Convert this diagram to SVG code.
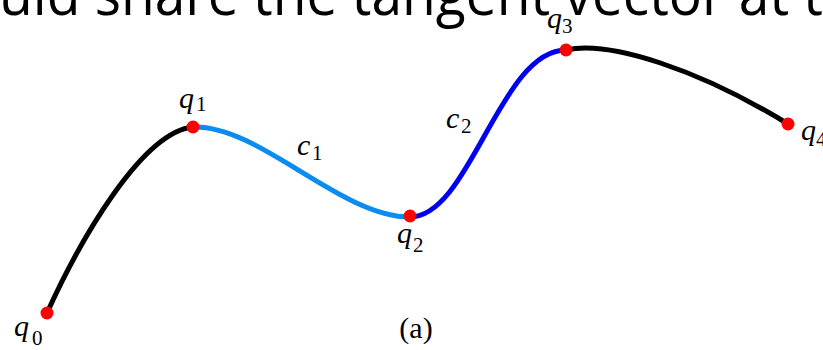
<svg xmlns="http://www.w3.org/2000/svg" width="823" height="350" viewBox="0 0 823 350">
<style>
.seg{fill:none;stroke-width:5;stroke-linecap:butt}
.pt{fill:#ff0000}
.lbl{font-family:"Liberation Serif",serif;font-style:italic;font-size:30px;fill:#000}
.sub{font-family:"Liberation Serif",serif;font-size:21px;fill:#000}
</style>
<rect width="823" height="350" fill="#fff"/>
<text x="-1" y="15" font-family="Open Sans, sans-serif" font-size="58" textLength="824" lengthAdjust="spacingAndGlyphs" fill="#000">uld share the tangent vector at t</text>
<g id="connectors">
<path class="seg" stroke="#000" d="M47,313 C80,240 142,132 193,127"/>
<path class="seg" stroke="#0a8cf0" d="M193,127 C260,125 340,217 410,217"/>
<path class="seg" stroke="#0000f0" d="M410,217 C470,217 500,50 566,50"/>
<path class="seg" stroke="#000" d="M566,50 C610,40 700,70 788,124"/>
</g>
<g id="q0"><circle class="pt" cx="47" cy="313" r="6.5"/><text class="lbl" x="14" y="336">q</text><text class="sub" x="32" y="345">0</text></g>
<g id="q1"><circle class="pt" cx="193" cy="127" r="6.5"/><text class="lbl" x="179" y="108">q</text><text class="sub" x="196" y="111">1</text></g>
<g id="q2"><circle class="pt" cx="410" cy="216" r="6.5"/><text class="lbl" x="397" y="243">q</text><text class="sub" x="413" y="252">2</text></g>
<g id="q3"><circle class="pt" cx="566" cy="50" r="6.5"/><text class="lbl" x="547" y="28">q</text><text class="sub" x="562" y="33">3</text></g>
<g id="q4"><circle class="pt" cx="788" cy="124" r="6.5"/><text class="lbl" x="801" y="140">q</text><text class="sub" x="816" y="146">4</text></g>
<g id="c1"><text class="lbl" x="297" y="155">c</text><text class="sub" x="312" y="160">1</text></g>
<g id="c2"><text class="lbl" x="446" y="128">c</text><text class="sub" x="461" y="133">2</text></g>
<g id="caption"><text x="416" y="338" text-anchor="middle" font-family="Liberation Serif, serif" font-size="30" fill="#000">(a)</text></g>
</svg>
